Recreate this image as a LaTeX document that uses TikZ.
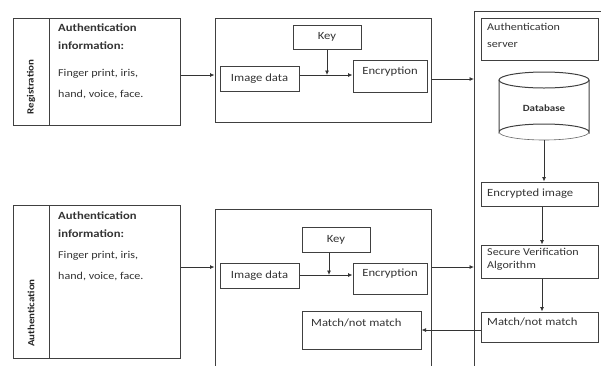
\documentclass[tikz,border=0pt]{standalone}
\usepackage{fontspec}
\setmainfont{Carlito}[FakeStretch=1.15]
\usetikzlibrary{arrows.meta}
\begin{document}
\begin{tikzpicture}[x=1pt,y=-1pt,
  ln/.style={draw=black!75, line width=1pt},
  box/.style={ln, inner sep=0pt, minimum width=#1},
  arr/.style={draw=black!80, line width=0.8pt, -{Latex[length=4.5pt,width=4pt]}},
  txt/.style={font=\fontsize{11}{13}\selectfont, text=black!80, inner sep=0pt},
  head/.style={font=\bfseries\fontsize{11}{18}\selectfont, text=black!80, inner sep=0pt, align=left},
  body/.style={font=\fontsize{10.5}{21}\selectfont, text=black!80, inner sep=0pt, align=left},
  side/.style={font=\bfseries\fontsize{9.5}{11}\selectfont, text=black!85, rotate=90, inner sep=0pt}
]
\useasboundingbox (0,0) rectangle (601,365);
\begin{scope}
\clip (0,0) rectangle (601,365);
% ---------- registration ----------
\node[box=36, minimum height=107] (regl) at (31,71.5) {};
\node[box=131, minimum height=107] (regc) at (114.5,71.5) {};
\node[side] (regs) at (31,87) {Registration};
\node[head, anchor=north west] (regh) at (58,24) {Authentication\\information:};
\node[body, anchor=north west] (regb) at (58,69) {Finger print, iris,\\hand, voice, face.};
% ---------- authentication ----------
\node[box=36, minimum height=153] (autl) at (31,281.5) {};
\node[box=131, minimum height=153] (autc) at (114.5,281.5) {};
\node[side] (auts) at (31,313) {Authentication};
\node[head, anchor=north west] (auth) at (58,212) {Authentication\\information:};
\node[body, anchor=north west] (autb) at (58,251) {Finger print, iris,\\hand, voice, face.};
% ---------- process 1 ----------
\node[box=216, minimum height=104] (p1) at (323,70) {};
\node[box=68, minimum height=24, txt] (key1) at (327,37) {Key};
\node[box=79, minimum height=25, txt] (img1) at (259.5,78.5) {Image data};
\node[box=74, minimum height=32, txt] (enc1) at (390,76) {};
\node[txt] (enc1t) at (390,72) {Encryption};
% ---------- process 2 ----------
\node[box=216, minimum height=160] (p2) at (323,289) {};
\node[box=68, minimum height=25, txt] (key2) at (336,239.5) {Key};
\node[box=79, minimum height=25, txt] (img2) at (259.5,275.5) {Image data};
\node[box=74, minimum height=31, txt] (enc2) at (390,278.5) {};
\node[txt] (enc2t) at (390,274) {Encryption};
\node[box=119, minimum height=38] (m2) at (361.5,330) {};
\node[txt, anchor=west] (m2t) at (311,323) {Match/not match};
% ---------- server ----------
\coordinate (srvtop) at (474,11);
\coordinate (srvbot) at (474,370);
\draw[ln] (610,11) -- (srvtop) -- (srvbot);
\node[box=117, minimum height=42] (srv) at (539.5,39) {};
\node[txt, anchor=north west, align=left, font=\fontsize{10.5}{17}\selectfont] (srvt) at (487,23) {Authentication\\server};
% database cylinder
\draw[ln] (499,80) -- (499,132) arc[start angle=180, end angle=360, x radius=45, y radius=8] -- (589,80);
\draw[ln] (544,80) ellipse[x radius=45, y radius=8];
\draw[draw=black!60, line width=0.6pt] (499,132) arc[start angle=180, end angle=0, x radius=45, y radius=8];
\node[txt, font=\bfseries\fontsize{9.5}{11}\selectfont] (db) at (544,108) {Database};
\coordinate (dbbot) at (544,140);
\node[box=117, minimum height=24] (encimg) at (539.5,194) {};
\node[txt, anchor=west] (encimgt) at (487,194) {Encrypted image};
\node[box=117, minimum height=33] (sva) at (539.5,261.5) {};
\node[txt, anchor=north west, align=left, font=\fontsize{10.5}{13}\selectfont] (svat) at (487,248) {Secure Verification\\Algorithm};
\node[box=117, minimum height=30] (msrv) at (539.5,327) {};
\node[txt, anchor=west] (msrvt) at (487,322) {Match/not match};
% ---------- connectors ----------
\coordinate (r1a) at (0,75);
\coordinate (r1b) at (0,79);
\coordinate (r2a) at (0,267);
\coordinate (r2b) at (0,275);
\draw[arr] (regc.east |- r1a) -- (p1.west |- r1a);
\draw[arr] (img1.east |- r1a) -- (enc1.west |- r1a);
\draw[arr] (key1.south) -- (key1.south |- r1a);
\draw[arr] (p1.east |- r1b) -- (srvtop |- r1b);
\draw[arr] (autc.east |- r2a) -- (p2.west |- r2a);
\draw[arr] (img2.east |- r2b) -- (enc2.west |- r2b);
\draw[arr] (key2.south -| 329,0) -- (329,275);
\draw[arr] (p2.east |- r2a) -- (srvtop |- r2a);
\draw[arr] (dbbot) -- (encimg.north -| dbbot);
\draw[arr] (encimg.south -| 542,0) -- (sva.north -| 542,0);
\draw[arr] (sva.south -| 542,0) -- (msrv.north -| 542,0);
\draw[arr] (msrv.west |- m2.east) -- (m2.east);
\end{scope}
\end{tikzpicture}
\end{document}
